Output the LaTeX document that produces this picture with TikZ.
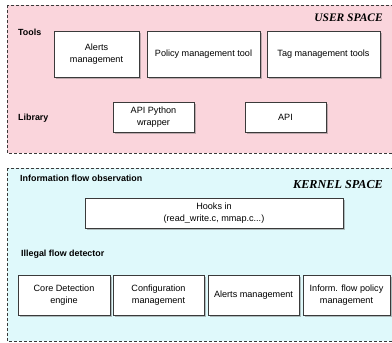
\documentclass[tikz,border=0pt]{standalone}
\usepackage{fontspec}
\setmainfont{Liberation Sans}
\newfontfamily\spacefont{Liberation Serif}
\usetikzlibrary{shadows}
\definecolor{userpink}{HTML}{FAD5DC}
\definecolor{kernelcyan}{HTML}{DFF9FB}
\definecolor{edgegray}{HTML}{3A3A3A}
\tikzset{
  region/.style={draw=edgegray, line width=0.7pt, dash pattern=on 3pt off 2pt},
  module/.style={draw=edgegray, line width=0.8pt, fill=white, align=center,
    font=\fontsize{9.1}{12}\selectfont, inner sep=2pt,
    drop shadow={shadow xshift=1.6pt, shadow yshift=-1.8pt, fill=black!55, opacity=0.45}},
  layer/.style={font=\fontsize{8.9}{10}\selectfont\bfseries, anchor=west, inner sep=0pt},
  spacetitle/.style={font=\fontsize{11.5}{13}\spacefont\bfseries\itshape\selectfont, anchor=east, inner sep=0pt}
}
\begin{document}
\begin{tikzpicture}[x=1pt, y=-1pt]
\useasboundingbox (0,0) rectangle (392,343);
\clip (0,0) rectangle (392,343);
\fill[white] (0,0) rectangle (392,343);

% user space
\draw[region, fill=userpink] (7,5) rectangle (400,153);
\node[spacetitle] (usertitle) at (383,18) {USER SPACE};
\node[layer] (tools) at (18,32) {Tools};
\node[layer] (library) at (18,118) {Library};
\node[module, minimum width=85pt, minimum height=46pt] (ualerts) at (96.5,54) {Alerts\\management};
\node[module, minimum width=113pt, minimum height=46pt] (policy) at (203.5,54) {Policy management tool};
\node[module, minimum width=113pt, minimum height=46pt] (tag) at (323.5,54) {Tag management tools};
\node[module, minimum width=81pt, minimum height=30pt] (pywrap) at (153.5,117) {API Python\\wrapper};
\node[module, minimum width=81pt, minimum height=30pt] (api) at (285.5,117) {API};

% kernel space
\draw[region, fill=kernelcyan] (7,168) rectangle (400,341);
\node[spacetitle, font=\fontsize{12.2}{14}\spacefont\bfseries\itshape\selectfont] (kerneltitle) at (383,185) {KERNEL SPACE};
\node[layer] (observation) at (20,178) {Information flow observation};
\node[layer] (detector) at (21,254) {Illegal flow detector};
\node[module, minimum width=258pt, minimum height=30pt] (hooks) at (214,213) {Hooks in\\(read\_write.c, mmap.c...)};
\node[module, minimum width=92pt, minimum height=40pt] (core) at (64,295) {Core Detection\\engine};
\node[module, minimum width=91pt, minimum height=40pt] (config) at (158.5,295) {Configuration\\management};
\node[module, minimum width=91pt, minimum height=40pt] (kalerts) at (253.5,295) {Alerts management};
\node[module, minimum width=87pt, minimum height=40pt] (inform) at (346.5,295) {Inform. flow policy\\management};
\end{tikzpicture}
\end{document}
